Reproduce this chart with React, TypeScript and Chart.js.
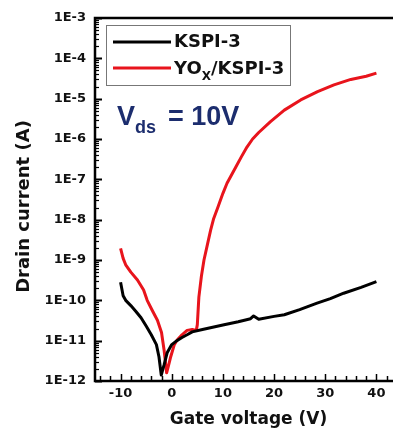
import React, { useEffect, useRef } from "react";
import { Chart, registerables } from "chart.js";

Chart.register(...registerables);

// KSPI-3 (black)
const kspiVg = [-10, -9.5, -9, -8, -7, -6, -5, -4, -3, -2.5, -2.05, -1.5, -0.9, 0, 1, 2, 3, 4, 6, 8, 10, 13, 15.4, 16, 17, 20, 22, 25, 28.4, 31, 33.6, 37, 40];
const kspiId = [2.8e-10, 1.3e-10, 1.0e-10, 7.4e-11, 5.3e-11, 3.7e-11, 2.3e-11, 1.4e-11, 8e-12, 4e-12, 1.4e-12, 2.5e-12, 5e-12, 8e-12, 1.0e-11, 1.2e-11, 1.4e-11, 1.65e-11, 1.9e-11, 2.15e-11, 2.45e-11, 2.95e-11, 3.5e-11, 4.1e-11, 3.4e-11, 4.0e-11, 4.4e-11, 5.9e-11, 8.5e-11, 1.1e-10, 1.5e-10, 2.1e-10, 2.9e-10];

// YOx/KSPI-3 (red)
const yoxVg = [-10, -9.5, -9, -8, -6.7, -5.5, -4.8, -3.8, -2.8, -2, -1.5, -1.0, -0.5, -0.2, 0.5, 1.1, 2, 3, 4, 4.8, 5.0, 5.3, 5.8, 6.3, 7, 7.6, 8.2, 9, 10, 10.8, 12.5, 13.6, 14.7, 15.8, 17, 19.3, 22, 25.2, 28.5, 31.7, 35, 38, 40];
const yoxId = [1.95e-9, 1.1e-9, 7.6e-10, 5e-10, 3.2e-10, 1.8e-10, 1.0e-10, 5.6e-11, 3.2e-11, 1.6e-11, 5.9e-12, 1.6e-12, 2.8e-12, 4e-12, 8e-12, 1.05e-11, 1.4e-11, 1.8e-11, 1.9e-11, 1.8e-11, 2.5e-11, 1.2e-10, 4e-10, 1e-9, 2.5e-9, 5.5e-9, 1.07e-8, 2e-8, 4.5e-8, 8e-8, 2e-7, 3.6e-7, 6.3e-7, 1.0e-6, 1.45e-6, 2.7e-6, 5.2e-6, 9.3e-6, 1.5e-5, 2.2e-5, 3e-5, 3.6e-5, 4.3e-5];

const seriesNames = ["KSPI-3", "YOx/KSPI-3"];
const xTickValues = [-10, 0, 10, 20, 30, 40];
const yTickExponents = [-12, -11, -10, -9, -8, -7, -6, -5, -4, -3];
const xTitle = "Gate voltage (V)";
const yTitle = "Drain current (A)";

const TICK_FONT = "DejaVu Sans";

const framePlugin = {
  id: "frame",
  afterDatasetsDraw(chart: any) {
    const { ctx, chartArea: ca, scales } = chart;
    const xs = scales.x;
    const ys = scales.y;
    ctx.save();
    ctx.strokeStyle = "#000";
    ctx.lineWidth = 1.5;
    for (let v = -14; v <= 44; v += 2) {
      const px = Math.round(xs.getPixelForValue(v)) + 0.5;
      const major = v % 10 === 0;
      const len = major ? 7 : 5;
      ctx.beginPath();
      ctx.moveTo(px, ca.bottom);
      ctx.lineTo(px, ca.bottom - len);
      ctx.stroke();
    }
    for (let e = -12; e <= -3; e++) {
      for (let k = 1; k <= 9; k++) {
        if (e === -3 && k > 1) break;
        const v = k * Math.pow(10, e);
        const py = Math.round(ys.getPixelForValue(v)) + 0.5;
        const len = k === 1 ? 7 : 4;
        ctx.lineWidth = k === 1 ? 2 : 1.2;
        ctx.beginPath();
        ctx.moveTo(ca.left, py);
        ctx.lineTo(ca.left + len, py);
        ctx.stroke();
      }
    }
    ctx.lineWidth = 2.5;
    ctx.strokeRect(ca.left, ca.top, ca.right - ca.left, ca.bottom - ca.top);
    ctx.restore();
  },
  afterDraw(chart: any) {
    const { ctx, chartArea: ca } = chart;
    const ds = chart.data.datasets;
    ctx.save();
    // y axis title
    ctx.save();
    ctx.translate(24, (ca.top + ca.bottom) / 2 + 7);
    ctx.rotate(-Math.PI / 2);
    ctx.textAlign = "center";
    ctx.textBaseline = "middle";
    ctx.fillStyle = "#111";
    ctx.font = `bold 18px "${TICK_FONT}"`;
    ctx.fillText(yTitle, 0, 0);
    ctx.restore();
    // legend
    const lx = ca.left + 11;
    const ly = ca.top + 7;
    ctx.strokeStyle = "#777";
    ctx.lineWidth = 1;
    ctx.strokeRect(lx + 0.5, ly + 0.5, 184, 60);
    const rows = [
      { y: ly + 17, base: ly + 22, color: ds[0].borderColor, parts: [{ t: "KSPI-3", sub: false }] },
      {
        y: ly + 43,
        base: ly + 49,
        color: ds[1].borderColor,
        parts: [
          { t: "YO", sub: false },
          { t: "X", sub: true },
          { t: "/KSPI-3", sub: false },
        ],
      },
    ];
    for (const r of rows) {
      ctx.strokeStyle = r.color;
      ctx.lineWidth = 3;
      ctx.beginPath();
      ctx.moveTo(lx + 7, r.y);
      ctx.lineTo(lx + 65, r.y);
      ctx.stroke();
      let tx = lx + 68;
      ctx.fillStyle = "#111";
      ctx.textBaseline = "alphabetic";
      ctx.textAlign = "left";
      for (const p of r.parts) {
        ctx.font = p.sub ? `bold 12px "${TICK_FONT}"` : `bold 18px "${TICK_FONT}"`;
        ctx.fillText(p.t, tx, p.sub ? r.base + 6 : r.base);
        tx += ctx.measureText(p.t).width;
      }
    }
    // Vds annotation
    const vx = ca.left + 22;
    const vb = ca.top + 107;
    ctx.fillStyle = "#1c2d6e";
    ctx.font = 'bold 27px "Liberation Sans"';
    ctx.fillText("V", vx, vb);
    let cx = vx + ctx.measureText("V").width;
    ctx.font = 'bold 18px "Liberation Sans"';
    ctx.fillText("ds", cx, vb + 8);
    cx += ctx.measureText("ds").width + 12;
    ctx.font = 'bold 27px "Liberation Sans"';
    ctx.fillText("= 10V", cx, vb);
    ctx.restore();
  },
};

export default function App() {
  const ref = useRef<HTMLCanvasElement | null>(null);
  useEffect(() => {
    if (!ref.current) return;
    const chart = new Chart(ref.current, {
      type: "scatter",
      data: {
        datasets: [
          {
            label: seriesNames[0],
            data: kspiVg.map((x, i) => ({ x, y: kspiId[i] })),
            showLine: true,
            borderColor: "#000000",
            borderWidth: 3,
            pointRadius: 0,
            tension: 0,
            borderJoinStyle: "round",
          },
          {
            label: seriesNames[1],
            data: yoxVg.map((x, i) => ({ x, y: yoxId[i] })),
            showLine: true,
            borderColor: "#e8141c",
            borderWidth: 3,
            pointRadius: 0,
            tension: 0,
            borderJoinStyle: "round",
          },
        ],
      },
      options: {
        animation: false,
        responsive: true,
        maintainAspectRatio: false,
        layout: { padding: { left: 0, top: 18, right: 10, bottom: 0 } },
        plugins: { legend: { display: false }, tooltip: { enabled: false } },
        scales: {
          x: {
            type: "linear",
            min: -15,
            max: 45,
            afterBuildTicks: (s: any) => {
              s.ticks = xTickValues.map((v) => ({ value: v }));
            },
            afterFit: (s: any) => {
              s.height = 51;
            },
            grid: { display: false, drawTicks: false },
            border: { display: false },
            ticks: {
              padding: 5,
              color: "#111",
              font: { family: TICK_FONT, weight: "bold", size: 13 },
              maxRotation: 0,
              callback: (v: any) => String(v),
            },
            title: {
              display: true,
              text: xTitle,
              color: "#111",
              font: { family: TICK_FONT, weight: "bold", size: 17 },
              padding: { top: 0, bottom: 2 },
            },
          },
          y: {
            type: "logarithmic",
            min: 1e-12,
            max: 1e-3,
            afterBuildTicks: (s: any) => {
              s.ticks = yTickExponents.map((e) => ({ value: Math.pow(10, e), major: true }));
            },
            afterFit: (s: any) => {
              s.width = 95;
            },
            grid: { display: false, drawTicks: false },
            border: { display: false },
            ticks: {
              padding: 9,
              color: "#111",
              font: { family: TICK_FONT, weight: "bold", size: 13 },
              callback: (v: any) => "1E" + Math.round(Math.log10(Number(v))),
            },
            title: { display: false },
          },
        },
      },
      plugins: [framePlugin],
    });
    return () => chart.destroy();
  }, []);
  return (
    <div style={{ position: "fixed", left: 0, top: 0, width: 393, height: 432, overflow: "hidden", background: "#fff" }}>
      <div style={{ position: "relative", width: 412, height: 432 }}>
        <canvas ref={ref} />
      </div>
    </div>
  );
}
